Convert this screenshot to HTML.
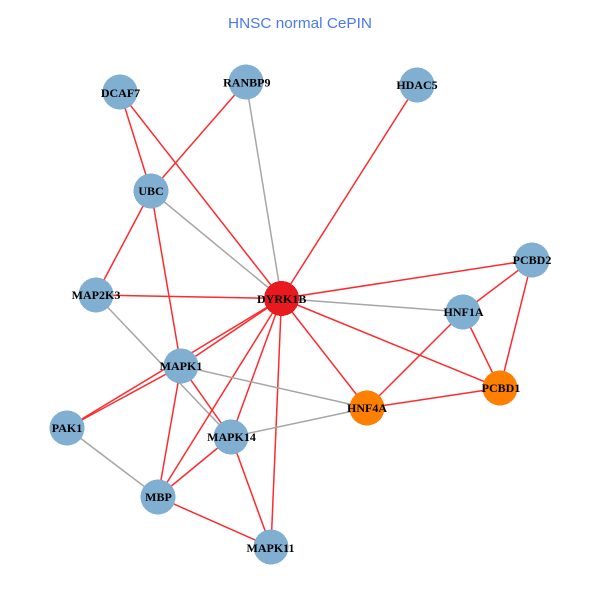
<!DOCTYPE html>
<html><head><meta charset="utf-8"><style>
html,body{margin:0;padding:0;background:#fff}
svg{display:block}
.r{stroke:#ff2a2e;stroke-width:1.5;fill:none}
.g{stroke:#a6a6a6;stroke-width:1.5;fill:none}
text.n{font-family:"Liberation Serif",serif;font-weight:bold;font-size:12px;fill:#000;text-anchor:middle}
circle{shape-rendering:crispEdges}
</style></head><body>
<svg width="600" height="600" viewBox="0 0 600 600" xmlns="http://www.w3.org/2000/svg">
<rect width="600" height="600" fill="#fff"/>
<text x="228" y="28" textLength="144" lengthAdjust="spacingAndGlyphs" font-family="Liberation Sans, sans-serif" font-size="15" fill="#4a78f5">HNSC normal CePIN</text>
<g>
<line class="r" x1="120" y1="92" x2="151" y2="191"/>
<line class="r" x1="120" y1="92" x2="281.5" y2="298.5"/>
<line class="r" x1="246" y1="82" x2="151" y2="191"/>
<line class="g" x1="246" y1="82" x2="281.5" y2="298.5"/>
<line class="r" x1="417" y1="85" x2="281.5" y2="298.5"/>
<line class="g" x1="151" y1="191" x2="281.5" y2="298.5"/>
<line class="r" x1="151" y1="191" x2="96" y2="295"/>
<line class="r" x1="151" y1="191" x2="181" y2="366"/>
<line class="r" x1="96" y1="295" x2="281.5" y2="298.5"/>
<line class="g" x1="96" y1="295" x2="231" y2="437"/>
<line class="r" x1="281.5" y1="298.5" x2="181" y2="366"/>
<line class="r" x1="281.5" y1="298.5" x2="67" y2="428"/>
<line class="r" x1="181" y1="366" x2="67" y2="428"/>
<line class="r" x1="281.5" y1="298.5" x2="158" y2="497"/>
<line class="r" x1="281.5" y1="298.5" x2="231" y2="437"/>
<line class="r" x1="281.5" y1="298.5" x2="271" y2="547"/>
<line class="r" x1="281.5" y1="298.5" x2="367" y2="408"/>
<line class="r" x1="281.5" y1="298.5" x2="500" y2="388"/>
<line class="r" x1="281.5" y1="298.5" x2="532" y2="260"/>
<line class="g" x1="281.5" y1="298.5" x2="463" y2="312"/>
<line class="r" x1="463" y1="312" x2="532" y2="260"/>
<line class="r" x1="463" y1="312" x2="500" y2="388"/>
<line class="r" x1="463" y1="312" x2="367" y2="408"/>
<line class="r" x1="532" y1="260" x2="500" y2="388"/>
<line class="r" x1="367" y1="408" x2="500" y2="388"/>
<line class="g" x1="367" y1="408" x2="181" y2="366"/>
<line class="g" x1="367" y1="408" x2="231" y2="437"/>
<line class="r" x1="181" y1="366" x2="231" y2="437"/>
<line class="r" x1="181" y1="366" x2="158" y2="497"/>
<line class="r" x1="231" y1="437" x2="158" y2="497"/>
<line class="r" x1="231" y1="437" x2="271" y2="547"/>
<line class="r" x1="158" y1="497" x2="271" y2="547"/>
<line class="g" x1="67" y1="428" x2="158" y2="497"/>
</g>
<g fill="#80afd2">
<circle cx="120" cy="92" r="17.5"/>
<circle cx="246" cy="82" r="17.5"/>
<circle cx="417" cy="85" r="17.5"/>
<circle cx="151" cy="191" r="17.5"/>
<circle cx="96" cy="295" r="17.5"/>
<circle cx="463" cy="312" r="17.5"/>
<circle cx="532" cy="260" r="17.5"/>
<circle cx="181" cy="366" r="17.5"/>
<circle cx="67" cy="428" r="17.5"/>
<circle cx="231" cy="437" r="17.5"/>
<circle cx="158" cy="497" r="17.5"/>
<circle cx="271" cy="547" r="17.5"/>
</g>
<circle cx="281.5" cy="298.5" r="17.5" fill="#e8191f"/>
<circle cx="500" cy="388" r="17.5" fill="#ff8000"/>
<circle cx="367" cy="408" r="17.5" fill="#ff8000"/>
<g>
<text class="n" x="120.500" y="97">DCAF7</text>
<text class="n" x="246.800" y="86.500">RANBP9</text>
<text class="n" x="417" y="89">HDAC5</text>
<text class="n" x="151" y="195">UBC</text>
<text class="n" x="96" y="299">MAP2K3</text>
<text class="n" x="281.700" y="303">DYRK1B</text>
<text class="n" x="463.500" y="316">HNF1A</text>
<text class="n" x="532" y="264">PCBD2</text>
<text class="n" x="501" y="392">PCBD1</text>
<text class="n" x="367" y="412">HNF4A</text>
<text class="n" x="181" y="370">MAPK1</text>
<text class="n" x="67" y="432">PAK1</text>
<text class="n" x="231.500" y="441">MAPK14</text>
<text class="n" x="158.500" y="501">MBP</text>
<text class="n" x="270.500" y="552">MAPK11</text>
</g>
</svg>
</body></html>
